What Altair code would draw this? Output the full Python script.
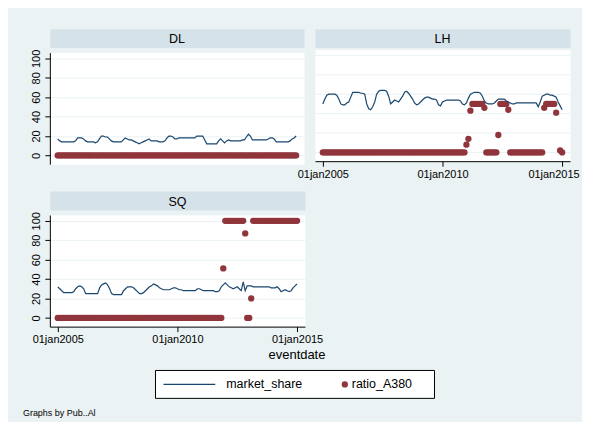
import altair as alt
import pandas as pd

# month index 0..120 = Jan 2005 .. Jan 2015
months = list(range(121))

dl_share = [17, 15, 14, 14, 14, 14, 14, 14, 14, 15, 18, 18,
            18, 17, 15, 14, 14, 14, 14, 13, 14, 17, 20, 20,
            19, 19, 17, 15, 14, 14, 14, 14, 14, 16, 18, 17,
            16, 16, 15, 14, 13, 12, 13, 14, 15, 16, 17, 15,
            15, 15, 15, 14, 14, 14, 15, 18, 20, 20, 19, 17,
            17, 18, 18, 18, 18, 18, 18, 18, 18, 18, 20, 20,
            20, 20, 16, 12, 12, 12, 12, 12, 12, 15, 17, 15,
            13, 15, 16, 15, 15, 15, 15, 15, 15, 16, 16, 19,
            22, 20, 16, 16, 16, 16, 16, 16, 16, 16, 17, 18,
            18, 17, 14, 14, 14, 14, 14, 14, 14, 15, 17, 18,
            20]
lh_share = [50, 55, 59, 60, 60, 60, 60, 59, 55, 50, 49, 49,
            51, 52, 57, 62, 62, 62, 62, 61, 61, 60, 50, 45,
            44, 47, 52, 60, 63, 64, 64, 64, 63, 58, 50, 52,
            54, 53, 52, 55, 58, 62, 63, 61, 58, 55, 51, 49,
            50, 52, 54, 56, 57, 57, 56, 55, 55, 54, 49, 48,
            52, 53, 54, 54, 54, 54, 54, 54, 54, 53, 50, 49,
            51, 56, 60, 61, 62, 62, 62, 61, 58, 53, 51, 50,
            50, 50, 51, 53, 55, 55, 55, 55, 53, 52, 51, 50,
            50, 51, 51, 51, 51, 51, 51, 51, 51, 51, 51, 51,
            47, 52, 58, 59, 60, 60, 59, 59, 58, 57, 52, 48,
            44]
sq_share = [32, 30, 28, 26, 26, 26, 26, 26, 27, 30, 32, 33,
            32, 30, 25, 25, 25, 25, 25, 25, 25, 31, 34, 35,
            36, 34, 30, 25, 24, 24, 24, 24, 24, 28, 30, 32,
            32, 32, 31, 29, 27, 25, 25, 26, 28, 30, 32, 33,
            35, 34, 33, 31, 30, 29, 29, 29, 29, 30, 31, 31,
            30, 29, 29, 28, 28, 28, 28, 28, 28, 28, 30, 30,
            29, 28, 28, 28, 28, 28, 28, 27, 27, 28, 32, 34,
            36, 34, 32, 31, 30, 31, 32, 30, 28, 37, 28, 33,
            33, 33, 32, 32, 32, 32, 32, 32, 32, 32, 32, 31,
            31, 31, 32, 30, 27, 28, 29, 28, 27, 28, 31, 33,
            35]

dl_ratio = [0, 0, 0, 0, 0, 0, 0, 0, 0, 0, 0, 0,
            0, 0, 0, 0, 0, 0, 0, 0, 0, 0, 0, 0,
            0, 0, 0, 0, 0, 0, 0, 0, 0, 0, 0, 0,
            0, 0, 0, 0, 0, 0, 0, 0, 0, 0, 0, 0,
            0, 0, 0, 0, 0, 0, 0, 0, 0, 0, 0, 0,
            0, 0, 0, 0, 0, 0, 0, 0, 0, 0, 0, 0,
            0, 0, 0, 0, 0, 0, 0, 0, 0, 0, 0, 0,
            0, 0, 0, 0, 0, 0, 0, 0, 0, 0, 0, 0,
            0, 0, 0, 0, 0, 0, 0, 0, 0, 0, 0, 0,
            0, 0, 0, 0, 0, 0, 0, 0, 0, 0, 0, 0,
            0]
lh_ratio = [0, 0, 0, 0, 0, 0, 0, 0, 0, 0, 0, 0,
            0, 0, 0, 0, 0, 0, 0, 0, 0, 0, 0, 0,
            0, 0, 0, 0, 0, 0, 0, 0, 0, 0, 0, 0,
            0, 0, 0, 0, 0, 0, 0, 0, 0, 0, 0, 0,
            0, 0, 0, 0, 0, 0, 0, 0, 0, 0, 0, 0,
            0, 0, 0, 0, 0, 0, 0, 0, 0, 0, 0, 0,
            8, 14, 43, 50, 50, 50, 50, 50, 50, 46, 0, 0,
            0, 0, 0, 0, 18, 50, 50, 50, 50, 44, 0, 0,
            0, 0, 0, 0, 0, 0, 0, 0, 0, 0, 0, 0,
            0, 0, 0, 46, 50, 50, 50, 50, 50, 41, None, 2,
            0]
sq_ratio = [0, 0, 0, 0, 0, 0, 0, 0, 0, 0, 0, 0,
            0, 0, 0, 0, 0, 0, 0, 0, 0, 0, 0, 0,
            0, 0, 0, 0, 0, 0, 0, 0, 0, 0, 0, 0,
            0, 0, 0, 0, 0, 0, 0, 0, 0, 0, 0, 0,
            0, 0, 0, 0, 0, 0, 0, 0, 0, 0, 0, 0,
            0, 0, 0, 0, 0, 0, 0, 0, 0, 0, 0, 0,
            0, 0, 0, 0, 0, 0, 0, 0, 0, 0, 0, 51,
            100, 100, 100, 100, 100, 100, 100, 100, 100, 100, 87, 0,
            0, 20, 100, 100, 100, 100, 100, 100, 100, 100, 100, 100,
            100, 100, 100, 100, 100, 100, 100, 100, 100, 100, 100, 100,
            100]

x_ticks = [2005, 2010, 2015]
y_ticks = [0, 20, 40, 60, 80, 100]

NAVY = "#1A476F"
MAROON = "#90353B"
BG = "#EAF2F3"
STRIP = "#D6E2E9"
FONT = "Liberation Sans"

XDOM = [2004.67, 2015.33]
YDOM = [-9, 106]
H = 112
HS = 19


def panel(code, share, ratio, show_y, show_x, width, flush_last=False):
    df = pd.DataFrame({
        "t": [2005 + m / 12 for m in months],
        "market_share": share,
        "ratio_A380": ratio,
    })
    if show_x:
        extra = {}
        if flush_last:
            extra = dict(
                labelAlign={"condition": {"test": "datum.value == 2015", "value": "right"},
                            "value": "center"},
                labelOffset={"condition": {"test": "datum.value == 2015", "value": 17},
                             "value": 0},
            )
        xax = alt.Axis(values=x_ticks, labelExpr="'01jan' + datum.value", title=None,
                       grid=False, tickSize=5, labelPadding=2, **extra)
    else:
        xax = None
    if show_y:
        yax = alt.Axis(values=y_ticks, title=None, labelAngle=270, labelAlign="center",
                       labelBaseline="bottom", labelPadding=3, tickSize=5, grid=True)
    else:
        yax = None
    xs = alt.Scale(domain=XDOM, nice=False, zero=False)
    ys = alt.Scale(domain=YDOM, nice=False, zero=False)
    layers = []
    if not show_y:
        grid = alt.Chart(pd.DataFrame({"g": y_ticks})).mark_rule(
            color=BG, strokeWidth=1).encode(y=alt.Y("g:Q", scale=ys, axis=None))
        layers.append(grid)
    base = alt.Chart(df).encode(x=alt.X("t:Q", scale=xs, axis=xax))
    pts = base.mark_circle(size=40, color=MAROON, opacity=1).encode(
        y=alt.Y("ratio_A380:Q", scale=ys, axis=yax))
    line = base.mark_line(color=NAVY, strokeWidth=1.2).encode(
        y=alt.Y("market_share:Q", scale=ys, axis=yax))
    layers += [pts, line]
    plot = alt.layer(*layers).properties(
        width=width, height=H,
        view=alt.ViewBackground(fill="white", stroke="transparent"))
    strip = alt.Chart(pd.DataFrame({"label": [code]})).mark_text(
        font=FONT, fontSize=12.5, color="black").encode(
        text="label:N", x=alt.value(width / 2), y=alt.value(HS / 2 + 1)).properties(
        width=width, height=HS,
        view=alt.ViewBackground(fill=STRIP, stroke="transparent"))
    return alt.vconcat(strip, plot, spacing=0)


dl = panel("DL", dl_share, dl_ratio, True, False, 255)
lh = panel("LH", lh_share, lh_ratio, False, True, 256, flush_last=True)
sq = panel("SQ", sq_share, sq_ratio, True, True, 256)

row1 = alt.hconcat(dl, lh, spacing=-9)
panels = alt.vconcat(row1, sq, spacing=10)

one = pd.DataFrame({"a": [0]})
bw = 522
bottom_h = 72
b_title = alt.Chart(one).mark_text(font=FONT, fontSize=13, color="black").encode(
    x=alt.value(248), y=alt.value(9), text=alt.value("eventdate"))
b_box = alt.Chart(one).mark_rect(fill="white", stroke="black", strokeWidth=1).encode(
    x=alt.value(106), x2=alt.value(386), y=alt.value(24), y2=alt.value(52))
b_rule = alt.Chart(one).mark_rule(color=NAVY, strokeWidth=1.2).encode(
    x=alt.value(114), x2=alt.value(166), y=alt.value(38))
b_t1 = alt.Chart(one).mark_text(font=FONT, fontSize=12.5, align="left", color="black").encode(
    x=alt.value(177), y=alt.value(38), text=alt.value("market_share"))
b_dot = alt.Chart(one).mark_circle(size=40, color=MAROON, opacity=1).encode(
    x=alt.value(296), y=alt.value(38))
b_t2 = alt.Chart(one).mark_text(font=FONT, fontSize=12.5, align="left", color="black").encode(
    x=alt.value(303), y=alt.value(38), text=alt.value("ratio_A380"))
b_foot = alt.Chart(one).mark_text(font=FONT, fontSize=9, align="left", color="black").encode(
    x=alt.value(-27), y=alt.value(67), text=alt.value("Graphs by Pub..Al"))
bottom = alt.layer(b_title, b_box, b_rule, b_t1, b_dot, b_t2, b_foot).properties(
    width=bw, height=bottom_h,
    view=alt.ViewBackground(fill="transparent", stroke="transparent"))

chart = alt.vconcat(panels, bottom, spacing=0).properties(
    background=BG,
    padding={"left": 14, "top": 19, "right": 2, "bottom": 2},
).configure_axis(
    labelFont=FONT, labelFontSize=11, labelColor="black",
    domainColor="black", tickColor="black", domainWidth=1, tickWidth=1,
    gridColor=BG, gridWidth=1,
)

chart.save("out.html", embed_options={"renderer": "svg", "actions": False})
